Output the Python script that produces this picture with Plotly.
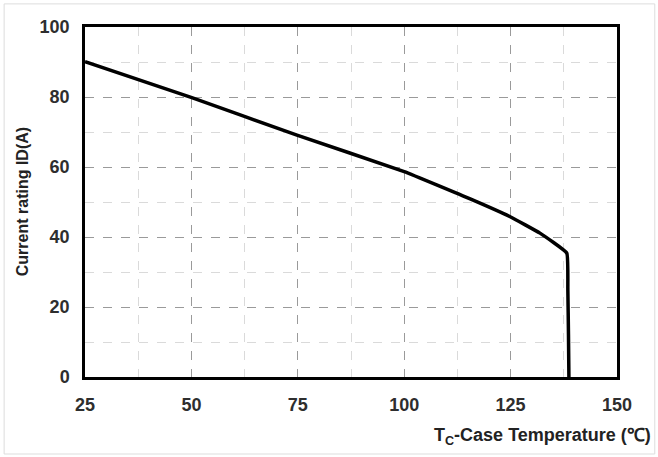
import plotly.graph_objects as go

# Data (Tc in °C, ID in A)
case_temp = [25, 50.1, 74.8, 100, 115.5, 124.9, 131.9, 138.2, 138.45, 138.6, 138.7]
current_rating = [90.1, 79.8, 69.1, 58.7, 50.9, 45.8, 41.1, 35.4, 25.0, 12.0, 0.0]

x_ticks = [25, 50, 75, 100, 125, 150]
y_ticks = [0, 20, 40, 60, 80, 100]

FONT = "Liberation Sans, Arial, sans-serif"

fig = go.Figure()
fig.add_trace(go.Scatter(
    x=case_temp, y=current_rating, mode="lines",
    line=dict(color="black", width=3.5, shape="spline", smoothing=0.3),
    showlegend=False, hoverinfo="skip",
))

axis_common = dict(
    showline=True, linecolor="black", linewidth=2.5, mirror=True,
    showgrid=True, gridcolor="#9a9a9a", griddash="dash", gridwidth=1,
    zeroline=False, ticks="",
    tickfont=dict(family=FONT, size=18, color="#2e2e2e", weight="bold"),
)

fig.update_xaxes(
    range=[25, 150], tickvals=x_ticks, ticklabelstandoff=10,
    minor=dict(dtick=12.5, tick0=25, showgrid=True, gridcolor="#dadada", griddash="dash", gridwidth=1),
    **axis_common,
)
fig.update_yaxes(
    range=[0, 100], tickvals=y_ticks, ticklabelstandoff=9,
    minor=dict(dtick=10, tick0=0, showgrid=True, gridcolor="#dadada", griddash="dash", gridwidth=1),
    **axis_common,
)

fig.update_layout(
    width=658, height=457,
    margin=dict(l=85, r=41, t=27, b=80),
    plot_bgcolor="white", paper_bgcolor="white",
    font=dict(family=FONT),
    annotations=[
        dict(text="Current rating ID(A)", xref="paper", yref="paper",
             x=-0.118, y=0.5, textangle=-90, showarrow=False,
             xanchor="center", yanchor="middle",
             font=dict(family=FONT, size=16, color="#222222", weight="bold")),
        dict(text="T<sub>C</sub>-Case Temperature (℃)", xref="paper", yref="paper",
             x=1.068, y=-0.169, showarrow=False, xanchor="right", yanchor="middle",
             font=dict(family=FONT, size=18, color="#222222", weight="bold")),
    ],
    shapes=[
        dict(type="rect", xref="paper", yref="paper",
             x0=-0.152, x1=1.071, y0=-0.22, y1=1.066,
             line=dict(color="#dddddd", width=1), layer="below"),
    ],
)

fig.write_html("out.html", config={"displayModeBar": False},
               post_script="document.body.style.margin='0';")
